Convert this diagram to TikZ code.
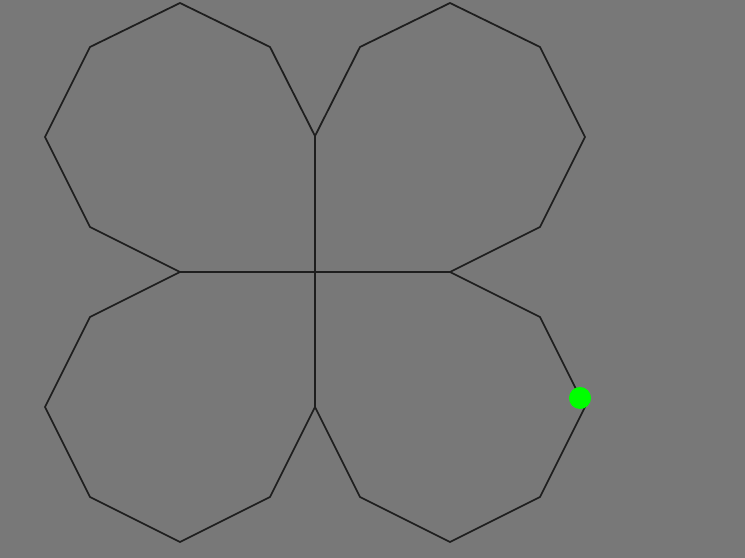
\documentclass[tikz,border=0pt]{standalone}
\usepackage{tikz}
\usetikzlibrary{positioning, calc}
\definecolor{bggray}{RGB}{120,120,120}
\definecolor{inkdark}{RGB}{30,30,30}
\definecolor{dotgreen}{RGB}{0,255,0}

\begin{document}
\begin{tikzpicture}[
  x=0.01cm, y=-0.01cm,
  petal/.style={draw=inkdark, line width=0.5pt, line join=miter},
  marker/.style={circle, fill=dotgreen, inner sep=0pt, minimum size=0.22cm}
]
  % Background: 745 x 558 canvas
  \fill[bggray] (0,0) rectangle (745,558);
  \useasboundingbox (0,0) rectangle (745,558);

  % Shared corners
  \coordinate (mid)   at (315,272);
  \coordinate (top)   at (315,136);
  \coordinate (bot)   at (315,407);
  \coordinate (left)  at (180,272);
  \coordinate (right) at (450,272);

  % Four petals
  \draw[petal] (top) -- (270,47) -- (180,3) -- (90,47) -- (45,137)
               -- (90,227) -- (left) -- (mid) -- cycle;
  \draw[petal] (top) -- (360,47) -- (450,3) -- (540,47) -- (585,137)
               -- (540,227) -- (right) -- (mid);
  \draw[petal] (left) -- (90,317) -- (45,407) -- (90,497) -- (180,542)
               -- (270,497) -- (bot) -- (mid);
  \draw[petal] (right) -- (540,317) -- (585,407) -- (540,497) -- (450,542)
               -- (360,497) -- (bot);

  % Turtle position
  \node[marker] (turtle) at (580,398) {};
\end{tikzpicture}
\end{document}
